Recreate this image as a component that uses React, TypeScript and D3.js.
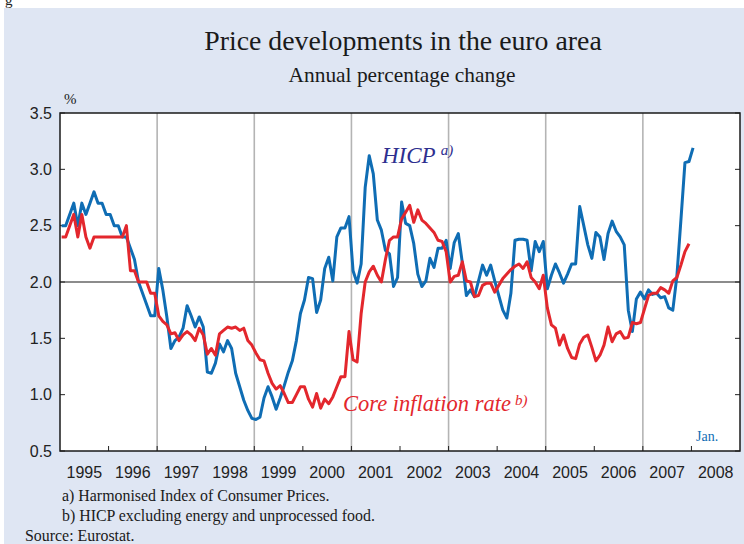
import React from 'react';
import * as d3 from 'd3';

// Monthly annual % change, Jan 1995 .. Jan 2008
const hicp = [
  2.5, 2.5, 2.6, 2.7, 2.5, 2.7, 2.6, 2.7, 2.8, 2.7, 2.7, 2.6,
  2.6, 2.5, 2.5, 2.4, 2.4, 2.3, 2.2, 2.0, 1.9, 1.8, 1.7, 1.7,
  2.12, 1.93, 1.69, 1.41, 1.48, 1.51, 1.59, 1.79, 1.70, 1.60, 1.69, 1.60,
  1.20, 1.19, 1.28, 1.45, 1.38, 1.48, 1.41, 1.19, 1.07, 0.95, 0.86, 0.79,
  0.78, 0.80, 0.97, 1.07, 0.98, 0.87, 0.97, 1.08, 1.20, 1.30, 1.48, 1.72,
  1.84, 2.04, 2.03, 1.73, 1.84, 2.12, 2.22, 2.01, 2.40, 2.48, 2.48, 2.58,
  2.10, 1.99, 2.16, 2.84, 3.12, 2.96, 2.55, 2.46, 2.28, 2.25, 1.96, 2.04,
  2.71, 2.52, 2.50, 2.34, 2.07, 1.96, 2.01, 2.21, 2.13, 2.30, 2.30, 2.37,
  2.12, 2.35, 2.43, 2.17, 1.88, 1.93, 1.87, 2.01, 2.15, 2.06, 2.15, 2.01,
  1.88, 1.75, 1.68, 1.90, 2.37, 2.38, 2.38, 2.37, 2.10, 2.36, 2.27, 2.36,
  1.94, 2.06, 2.16, 2.08, 1.99, 2.07, 2.16, 2.16, 2.67, 2.50, 2.33, 2.21,
  2.44, 2.40, 2.20, 2.43, 2.54, 2.45, 2.40, 2.33, 1.75, 1.56, 1.85, 1.91,
  1.85, 1.93, 1.89, 1.90, 1.86, 1.87, 1.77, 1.75, 2.05, 2.55, 3.06, 3.07,
  3.19,
];

// Monthly annual % change, Jan 1995 .. Dec 2007
const core = [
  2.4, 2.4, 2.5, 2.6, 2.4, 2.6, 2.4, 2.3, 2.4, 2.4, 2.4, 2.4,
  2.4, 2.4, 2.4, 2.4, 2.5, 2.1, 2.1, 2.0, 2.0, 2.0, 1.9, 1.9,
  1.70, 1.65, 1.62, 1.54, 1.55, 1.48, 1.53, 1.56, 1.53, 1.48, 1.59, 1.53,
  1.36, 1.41, 1.35, 1.54, 1.57, 1.60, 1.59, 1.60, 1.57, 1.59, 1.48, 1.44,
  1.37, 1.31, 1.30, 1.19, 1.10, 1.05, 1.08, 1.01, 0.93, 0.93, 1.00, 1.07,
  1.07, 0.96, 0.89, 1.01, 0.88, 0.96, 0.92, 0.98, 1.07, 1.16, 1.16, 1.56,
  1.31, 1.29, 1.72, 2.00, 2.09, 2.14, 2.06, 2.00, 2.20, 2.37, 2.40, 2.40,
  2.56, 2.62, 2.68, 2.53, 2.64, 2.55, 2.52, 2.48, 2.44, 2.37, 2.36, 2.27,
  2.00, 2.05, 2.06, 2.18, 2.01, 2.00, 1.87, 1.88, 1.97, 1.99, 1.99, 1.91,
  1.97, 2.03, 2.07, 2.11, 2.14, 2.16, 2.12, 2.18, 2.04, 2.00, 1.94, 2.06,
  1.77, 1.62, 1.59, 1.44, 1.53, 1.41, 1.33, 1.32, 1.45, 1.51, 1.53, 1.42,
  1.30, 1.35, 1.44, 1.60, 1.47, 1.54, 1.56, 1.50, 1.51, 1.64, 1.63, 1.64,
  1.76, 1.88, 1.90, 1.90, 1.95, 1.93, 1.90, 2.01, 2.04, 2.15, 2.27, 2.34,
];

const startYear = 1995;
const yearLabels = d3.range(1995, 2009);
const yTicks = [0.5, 1.0, 1.5, 2.0, 2.5, 3.0, 3.5];
const gridYears = [1997, 1999, 2001, 2003, 2005, 2007];
const refLine = 2.0;

const SERIF = '"Liberation Serif", "DejaVu Serif", serif';
const SANS = '"Liberation Sans", Arial, sans-serif';
const BLUE = '#0f6db4';
const RED = '#e3272d';

export default function App() {
  const W = 744, H = 544;
  const L = 60, R = 740, T = 113, B = 451;
  const x = d3.scaleLinear().domain([1995, 2009]).range([L, R]);
  const y = d3.scaleLinear().domain([0.5, 3.5]).range([B, T]);
  const t = (i: number) => startYear + (i + 0.4) / 12;
  const line = d3.line<number>().x((_, i) => x(t(i))).y((d) => y(d));
  const tickYears = d3.range(1996, 2009);

  return (
    <div style={{ position: 'fixed', left: 0, top: 0 }}>
      <svg width={W} height={H} style={{ display: 'block' }}>
        <rect x={0} y={0} width={W} height={H} fill="#ffffff" />
        <text x={5} y={5} fontFamily={SERIF} fontSize={15} fill="#222">g</text>
        <rect x={4} y={8} width={W - 4} height={H - 8} fill="#dfe6f3" />

        <text x={403} y={50} textAnchor="middle" fontFamily={SERIF} fontSize={27.8} fill="#1a1a1a">
          Price developments in the euro area
        </text>
        <text x={402} y={82} textAnchor="middle" fontFamily={SERIF} fontSize={21.4} fill="#1a1a1a">
          Annual percentage change
        </text>
        <text x={64} y={104} fontFamily={SERIF} fontSize={15} fill="#1a1a1a">%</text>

        <rect x={L} y={T} width={R - L} height={B - T} fill="#ffffff" />

        {gridYears.map((g) => (
          <line key={g} x1={x(g)} x2={x(g)} y1={T} y2={B} stroke="#b4b4b4" strokeWidth={1.6} />
        ))}
        <line x1={L} x2={R} y1={y(refLine)} y2={y(refLine)} stroke="#8c8c8c" strokeWidth={2} />

        {yTicks.map((v) => (
          <g key={v}>
            <line x1={L} x2={L + 5} y1={y(v)} y2={y(v)} stroke="#222" strokeWidth={1} />
            <line x1={R - 5} x2={R} y1={y(v)} y2={y(v)} stroke="#222" strokeWidth={1} />
            <text x={52} y={y(v)} dy="0.36em" textAnchor="end" fontFamily={SANS} fontSize={16} fill="#222">
              {v.toFixed(1)}
            </text>
          </g>
        ))}
        {tickYears.map((yr) => (
          <line key={yr} x1={x(yr)} x2={x(yr)} y1={B} y2={B - 5} stroke="#222" strokeWidth={1} />
        ))}
        {yearLabels.map((yr) => (
          <text key={yr} x={x(yr + 0.5)} y={478} textAnchor="middle" fontFamily={SANS} fontSize={16} fill="#222">
            {yr}
          </text>
        ))}

        <path d={line(hicp) || ''} fill="none" stroke={BLUE} strokeWidth={3} strokeLinejoin="round" />
        <path d={line(core) || ''} fill="none" stroke={RED} strokeWidth={3} strokeLinejoin="round" />

        <rect x={L} y={T} width={R - L} height={B - T} fill="none" stroke="#1a1a1a" strokeWidth={1.5} />

        <text x={382} y={163} fontFamily={SERIF} fontStyle="italic" fontSize={23} fill="#2e2f8f">
          HICP
          <tspan dx={5} dy={-8} fontSize={15}>a)</tspan>
        </text>
        <text x={343} y={411} fontFamily={SERIF} fontStyle="italic" fontSize={22.5} fill={RED}>
          Core inflation rate
          <tspan dx={4} dy={-6} fontSize={15}>b)</tspan>
        </text>
        <text x={696} y={441} fontFamily={SERIF} fontSize={14} fill={BLUE}>Jan.</text>

        <text x={62} y={501} fontFamily={SERIF} fontSize={15.9} fill="#1a1a1a">
          a) Harmonised Index of Consumer Prices.
        </text>
        <text x={62} y={521} fontFamily={SERIF} fontSize={15.9} fill="#1a1a1a">
          b) HICP excluding energy and unprocessed food.
        </text>
        <text x={25} y={541} fontFamily={SERIF} fontSize={15.9} fill="#1a1a1a">
          Source: Eurostat.
        </text>
      </svg>
    </div>
  );
}
